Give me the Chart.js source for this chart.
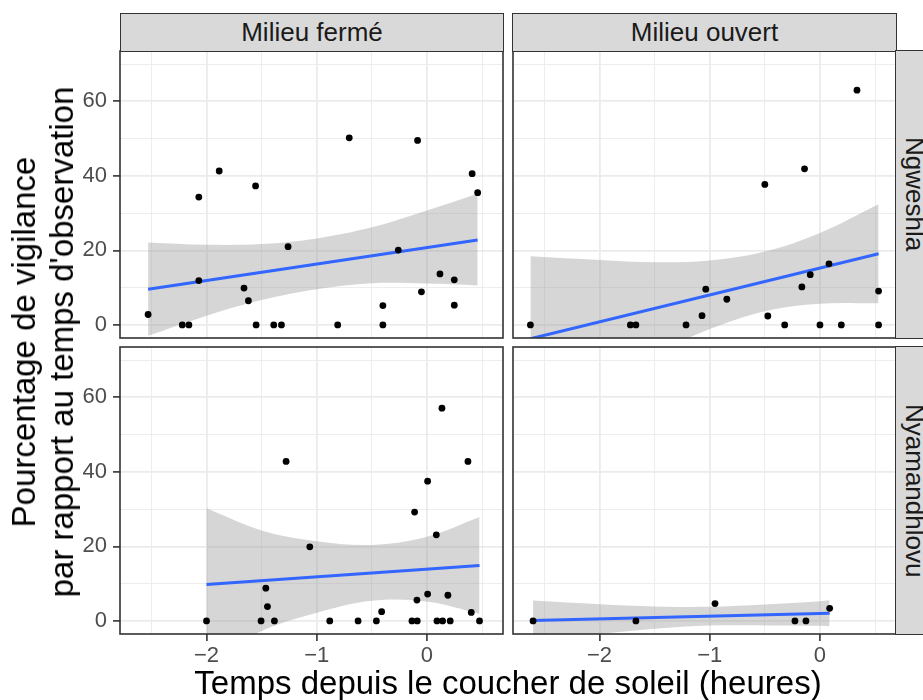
<!DOCTYPE html>
<html>
<head>
<meta charset="utf-8">
<script src="https://cdn.jsdelivr.net/npm/chart.js@4.4.0/dist/chart.umd.min.js"></script>
<style>
  body { margin: 0; background: #fff; font-family: "Liberation Sans", Arial, sans-serif; }
  #page { position: relative; width: 923px; height: 700px; overflow: hidden; }
  canvas { position: absolute; }
  .strip { position: absolute; background: #d9d9d9; border: 1.6px solid #333; box-sizing: border-box;
           color: #1a1a1a; font-size: 26px; display: flex; align-items: center; justify-content: center; white-space: nowrap; }
  .strip.side { writing-mode: vertical-rl; }
  .title { position: absolute; color: #000; font-size: 33px; white-space: nowrap; text-align: center; }
</style>
</head>
<body>
<div id="page">
  <canvas id="tl" width="507" height="295" style="left:0;top:47px"></canvas>
  <canvas id="tr" width="391" height="295" style="left:509px;top:47px"></canvas>
  <canvas id="bl" width="507" height="327" style="left:0;top:343px"></canvas>
  <canvas id="br" width="391" height="327" style="left:509px;top:343px"></canvas>

  <div class="strip" style="left:120px;top:13px;width:384px;height:39px">Milieu fermé</div>
  <div class="strip" style="left:512px;top:13px;width:385px;height:39px">Milieu ouvert</div>
  <div class="strip side" style="left:895px;top:50px;width:39px;height:289px">Ngweshla</div>
  <div class="strip side" style="left:895px;top:346px;width:39px;height:289px">Nyamandhlovu</div>

  <div class="title" style="left:43px;top:342px;line-height:38px;transform:translate(-50%,-50%) rotate(-90deg)">Pourcentage de vigilance<br>par rapport au temps d'observation</div>
  <div class="title" style="left:508px;top:683px;line-height:36px;transform:translate(-50%,-50%)">Temps depuis le coucher de soleil (heures)</div>
</div>
<script>
// axis ticks (major + minor grid)
var xTickValues = [-2.5, -2, -1.5, -1, -0.5, 0, 0.5];
var xTickLabels = ['', '\u22122', '', '\u22121', '', '0', ''];
var yTickValues = [0, 10, 20, 30, 40, 50, 60, 70];
var yTickLabels = ['0', '', '20', '', '40', '', '60', ''];

// Milieu fermé - Ngweshla
var fermeNgwX = [-2.53, -2.22, -2.16, -2.07, -2.07, -1.885, -1.66, -1.62, -1.555, -1.55, -1.39, -1.32, -1.26, -0.81, -0.705, -0.40, -0.40, -0.26, -0.085, -0.05, 0.118, 0.248, 0.248, 0.41, 0.46];
var fermeNgwY = [2.8, 0, 0, 34.3, 11.9, 41.3, 9.9, 6.5, 37.3, 0, 0, 0, 21.0, 0, 50.2, 5.2, 0, 20.1, 49.5, 8.9, 13.7, 12.1, 5.3, 40.6, 35.5];
var fermeNgwBandX = [-2.53, -2, -1.5, -1, -0.5, 0, 0.46];
var fermeNgwUpper = [22.1, 21.5, 21.7, 23.2, 26.2, 30.7, 35.2];
var fermeNgwLower = [-2.9, 2.5, 6.7, 9.6, 11.2, 11.1, 10.6];
var fermeNgwFitX = [-2.53, 0.46];
var fermeNgwFitY = [9.6, 22.8];

// Milieu ouvert - Ngweshla
var ouvertNgwX = [-2.627, -1.72, -1.67, -1.215, -1.07, -1.036, -0.845, -0.50, -0.473, -0.32, -0.164, -0.14, -0.088, 0, 0.082, 0.194, 0.336, 0.532, 0.532];
var ouvertNgwY = [0, 0, 0, 0, 2.5, 9.6, 6.9, 37.7, 2.4, 0, 10.2, 41.9, 13.5, 0, 16.4, 0, 63.0, 9.1, 0];
var ouvertNgwBandX = [-2.627, -2, -1.5, -1, -0.5, 0, 0.532];
var ouvertNgwUpper = [18.4, 17.4, 16.8, 17.3, 19.7, 24.7, 32.4];
var ouvertNgwLower = [-25.8, -15.6, -7.8, -1.1, 3.7, 5.7, 5.8];
var ouvertNgwFitX = [-2.627, 0.532];
var ouvertNgwFitY = [-3.7, 19.1];

// Milieu fermé - Nyamandhlovu
var fermeNyaX = [-2.0, -1.505, -1.462, -1.447, -1.384, -1.278, -1.063, -0.882, -0.625, -0.459, -0.411, -0.136, -0.112, -0.091, -0.088, 0.006, 0.006, 0.085, 0.091, 0.136, 0.142, 0.19, 0.211, 0.372, 0.402, 0.477];
var fermeNyaY = [0, 0, 8.8, 3.85, 0, 42.8, 19.9, 0, 0, 0, 2.5, 0, 29.2, 5.6, 0, 37.5, 7.2, 23.1, 0, 57.1, 0, 6.9, 0, 42.8, 2.3, 0];
var fermeNyaBandX = [-2, -1.5, -1, -0.5, 0, 0.477];
var fermeNyaUpper = [30.25, 24.3, 21.4, 20.4, 22.6, 27.9];
var fermeNyaLower = [-10.75, -2.7, 2.2, 5.4, 5.2, 1.9];
var fermeNyaFitX = [-2, 0.477];
var fermeNyaFitY = [9.75, 14.9];

// Milieu ouvert - Nyamandhlovu
var ouvertNyaX = [-2.603, -1.67, -0.952, -0.227, -0.127, 0.088];
var ouvertNyaY = [0, 0, 4.65, 0, 0, 3.4];
var ouvertNyaBandX = [-2.603, -2, -1.5, -1, -0.5, 0, 0.088];
var ouvertNyaUpper = [5.5, 4.5, 3.9, 3.8, 4.4, 5.3, 5.55];
var ouvertNyaLower = [-5.3, -3.5, -2.1, -1.25, -1.2, -1.3, -1.45];
var ouvertNyaFitX = [-2.603, 0.088];
var ouvertNyaFitY = [0.1, 2.05];

document.addEventListener('DOMContentLoaded', function () {

    var fontFamily = '"Liberation Sans", Arial, sans-serif';

    function toXY(xs, ys) {
        return xs.map(function (x, i) { return { x: x, y: ys[i] }; });
    }

    // draw the dark frame round the plotting area
    var panelBorder = {
        id: 'panelBorder',
        afterDraw: function (chart) {
            var a = chart.chartArea;
            var ctx = chart.ctx;
            ctx.save();
            ctx.strokeStyle = '#333333';
            ctx.lineWidth = 1.6;
            ctx.strokeRect(a.left, a.top, a.right - a.left, a.bottom - a.top);
            ctx.restore();
        }
    };

    function makePanel(id, p, showX, showY, padding) {
        new Chart(document.getElementById(id), {
            type: 'scatter',
            data: {
                datasets: [{
                    data: toXY(p.x, p.y),
                    backgroundColor: '#000000',
                    pointRadius: 3.4,
                    pointBorderWidth: 0,
                    order: 0
                }, {
                    data: toXY(p.fitX, p.fitY),
                    showLine: true,
                    borderColor: '#3366FF',
                    borderWidth: 3,
                    pointRadius: 0,
                    clip: 0,
                    order: 1
                }, {
                    data: toXY(p.bandX, p.upper),
                    showLine: true,
                    borderWidth: 0,
                    borderColor: 'rgba(0,0,0,0)',
                    backgroundColor: 'rgba(153,153,153,0.4)',
                    pointRadius: 0,
                    tension: 0.35,
                    fill: '+1',
                    clip: 0,
                    order: 2
                }, {
                    data: toXY(p.bandX, p.lower),
                    showLine: true,
                    borderWidth: 0,
                    borderColor: 'rgba(0,0,0,0)',
                    pointRadius: 0,
                    tension: 0.35,
                    clip: 0,
                    order: 3
                }]
            },
            options: {
                responsive: false,
                animation: false,
                events: [],
                layout: { padding: padding },
                plugins: { legend: { display: false }, tooltip: { enabled: false } },
                scales: {
                    x: {
                        type: 'linear',
                        min: -2.785,
                        max: 0.69,
                        afterBuildTicks: function (s) {
                            s.ticks = xTickValues.map(function (v) { return { value: v }; });
                        },
                        afterFit: function (s) {
                            s.height = showX ? 36 : 0;
                            s.paddingLeft = 0;
                            s.paddingRight = 0;
                        },
                        border: { display: false },
                        grid: {
                            color: '#ebebeb',
                            lineWidth: function (c) { return xTickLabels[c.index] ? 1.8 : 0.9; },
                            drawTicks: showX,
                            tickLength: 7,
                            tickWidth: 1.6,
                            tickColor: function (c) { return xTickLabels[c.index] ? '#333333' : 'rgba(0,0,0,0)'; }
                        },
                        ticks: {
                            display: showX,
                            autoSkip: false,
                            maxRotation: 0,
                            padding: 2,
                            color: '#4d4d4d',
                            font: { size: 22, family: fontFamily },
                            callback: function (v, i) { return xTickLabels[i]; }
                        }
                    },
                    y: {
                        type: 'linear',
                        min: -3.5,
                        max: 73.5,
                        afterBuildTicks: function (s) {
                            s.ticks = yTickValues.map(function (v) { return { value: v }; });
                        },
                        afterFit: function (s) {
                            s.width = showY ? 120 : 0;
                            s.paddingTop = 0;
                            s.paddingBottom = 0;
                        },
                        border: { display: false },
                        grid: {
                            color: '#ebebeb',
                            lineWidth: function (c) { return yTickLabels[c.index] ? 1.8 : 0.9; },
                            drawTicks: showY,
                            tickLength: 7,
                            tickWidth: 1.6,
                            tickColor: function (c) { return yTickLabels[c.index] ? '#333333' : 'rgba(0,0,0,0)'; }
                        },
                        ticks: {
                            display: showY,
                            autoSkip: false,
                            padding: 6,
                            color: '#4d4d4d',
                            font: { size: 22, family: fontFamily },
                            callback: function (v, i) { return yTickLabels[i]; }
                        }
                    }
                }
            },
            plugins: [panelBorder]
        });
    }

    makePanel('tl', { x: fermeNgwX, y: fermeNgwY, bandX: fermeNgwBandX, upper: fermeNgwUpper, lower: fermeNgwLower, fitX: fermeNgwFitX, fitY: fermeNgwFitY },
        false, true, { top: 4, right: 4, bottom: 4, left: 0 });
    makePanel('tr', { x: ouvertNgwX, y: ouvertNgwY, bandX: ouvertNgwBandX, upper: ouvertNgwUpper, lower: ouvertNgwLower, fitX: ouvertNgwFitX, fitY: ouvertNgwFitY },
        false, false, { top: 4, right: 4, bottom: 4, left: 4 });
    makePanel('bl', { x: fermeNyaX, y: fermeNyaY, bandX: fermeNyaBandX, upper: fermeNyaUpper, lower: fermeNyaLower, fitX: fermeNyaFitX, fitY: fermeNyaFitY },
        true, true, { top: 4, right: 4, bottom: 0, left: 0 });
    makePanel('br', { x: ouvertNyaX, y: ouvertNyaY, bandX: ouvertNyaBandX, upper: ouvertNyaUpper, lower: ouvertNyaLower, fitX: ouvertNyaFitX, fitY: ouvertNyaFitY },
        true, false, { top: 4, right: 4, bottom: 0, left: 4 });
});
</script>
</body>
</html>
